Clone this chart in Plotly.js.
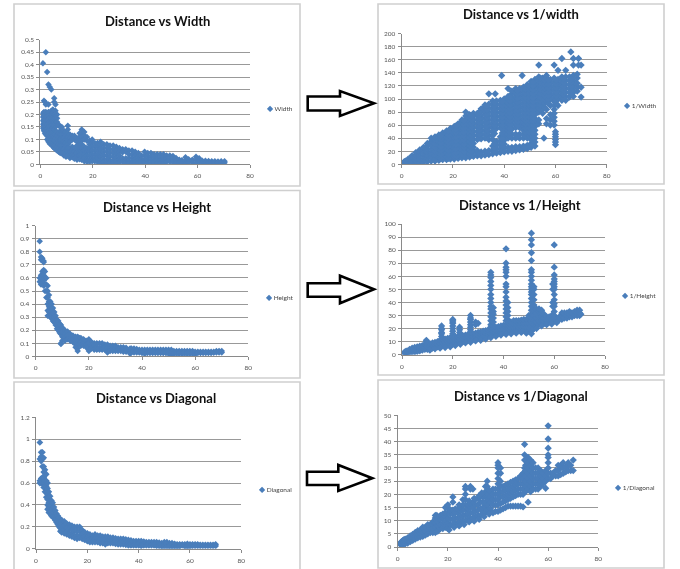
<!DOCTYPE html>
<html>
<head>
<meta charset="utf-8">
<script src="https://cdn.plot.ly/plotly-3.0.1.min.js"></script>
<style>
html,body{margin:0;padding:0;background:#fff;overflow:hidden}
#chart{width:680px;height:569px;filter:blur(0.45px)}
</style>
</head>
<body>
<div id="chart"></div>
<script>
// Each row: distance, then the values read at that distance.
const widthColumns = [
[1,.405,.205,.19,.175,.16,.145],[1.4,.255,.21,.195,.18,.165,.15,.135],[1.8,.25,.2,.185,.17,.155,.14,.125],[2.1,.45,.24,.21,.195,.18,.165,.15,.135,.12],
[2.6,.37,.205,.19,.175,.16,.145,.13,.115,.1],[3.1,.32,.24,.21,.195,.18,.165,.15,.135,.12,.105,.09],[3.6,.31,.2,.185,.17,.155,.14,.125,.11,.095,.082],
[4.2,.3,.215,.2,.185,.17,.155,.14,.125,.11,.095,.08],[4.8,.22,.205,.19,.175,.16,.145,.13,.115,.1,.085,.07],[5.3,.265,.25,.2,.185,.17,.155,.14,.125,.11,.095,.08,.065],
[5.8,.24,.215,.2,.185,.17,.15,.12,.105,.09,.075,.06],[6.4,.2,.185,.17,.13,.115,.1,.085,.07,.055],[7,.16,.125,.11,.095,.08,.065,.05],
[7.6,.15,.135,.12,.105,.09,.075,.06,.045],[8.2,.15,.135,.12,.105,.09,.075,.06,.045],[9,.135,.12,.105,.09,.075,.06,.045,.035],
[9.8,.13,.115,.1,.085,.07,.055,.04,.03],[10.5,.155,.14,.125,.11,.095,.08,.065,.05,.035],[11.3,.12,.105,.09,.065,.05,.035,.025],
[12.2,.115,.1,.07,.055,.04,.028],[13,.115,.1,.065,.05,.035,.022],[14,.105,.09,.075,.06,.045,.03,.018],[15,.125,.11,.095,.08,.065,.05,.035,.02],
[15.8,.14,.125,.11,.095,.08,.065,.05,.035,.018],[16.8,.13,.115,.1,.07,.055,.04,.025,.012],[17.8,.11,.095,.065,.05,.035,.02,.01],
[18.8,.095,.08,.065,.05,.035,.02,.01],[19.8,.1,.085,.07,.055,.04,.025,.012],[20.8,.085,.07,.055,.04,.025,.012],[21.8,.085,.07,.055,.04,.025,.01],
[23,.09,.075,.06,.045,.03,.015,.006],[24.2,.08,.065,.05,.035,.02,.008],[25.4,.08,.065,.05,.035,.02,.006],[26.6,.075,.06,.045,.03,.015,.005],
[27.8,.075,.06,.045,.03,.015,.005],[29,.07,.055,.04,.025,.012,.004],[30.2,.065,.05,.035,.02,.008],[31.4,.06,.048,.024,.01],[32.6,.06,.05,.024,.012,.004],
[33.8,.055,.04,.025,.012,.004],[35,.055,.04,.025,.012,.004],[36.2,.05,.035,.02,.008],[37.4,.045,.03,.018,.006],[38.6,.035,.02,.006],
[39.8,.05,.035,.02,.008],[41,.045,.032,.018,.006],[42.2,.045,.03,.018,.005],[43.4,.04,.028,.015,.005],[44.6,.04,.026,.014,.004],[45.8,.04,.026,.014,.005],
[47,.04,.026,.014,.004],[48.2,.035,.022,.01],[49.4,.035,.022,.01],[50.6,.033,.02,.008],[51.8,.025,.012,.004],[53,.018,.006],[54,.016,.006],[55.4,.028,.015,.005],
[56.6,.02,.008],[58,.018,.007],[59.4,.03,.018,.006],[60.6,.024,.01],[61.8,.014,.006],[63,.014,.006],[64.2,.013,.006],[65.4,.012,.005],[66.6,.012,.005],
[67.8,.011,.005],[69,.012,.005],[70.3,.012,.006]
];
const inverseWidthColumns = [
[1,2,4],[1.5,2,5],[2.5,2,6,8],[4,2,6,11,13],[5.5,2,6,10,14,18],[7,3,8,13,18,22],[8.5,3,7,12,17,22,26],[10,4,9,14,19,24,29,32],[11.5,5,11,17,23,29,35,40],
[13,5,8,14,20,26,32,38,42],[14.5,6,11,17,23,29,35,41,45],[16,7,14,20,26,32,38,44,48],[17.5,7,11,17,23,29,35,41,47,51],[19,8,14,20,26,32,38,44,50,55],
[20.5,8,11,17,23,29,35,41,47,53,58],[22,9,14,20,26,32,38,44,50,56,62],[23.5,10,17,23,29,35,41,47,53,59,65,68],[25,10,14,20,26,32,38,44,50,56,62,68,74,80],
[26.5,11,17,23,29,35,41,47,53,59,65,71,76],[28,12,20,26,32,38,44,50,56,62,68,74,78],[29.5,13,17,21,38,44,50,56,62,68,74,78],[31,13,19,39,45,51,57,63,69,75,81,85],
[32.5,14,20,40,46,52,58,64,70,76,82,88,91],[34,15,21,38,44,50,56,62,68,74,80,86,92,108],[35.5,16,22,28,38,44,50,56,62,68,74,80,86,92,97],[36.5,108],
[37,17,23,29,35,55,61,67,73,79,85,91,97],[38.5,18,24,30,36,42,56,62,68,74,80,86,92,98],[39,136],[40,19,25,31,37,43,49,55,61,67,73,79,85,91,97,100],
[41.5,20,26,40,46,52,58,64,70,76,82,88,94,100,104,116],[43,20,26,40,46,54,60,66,72,78,84,90,96,102,108,112],[44.5,21,27,40,46,56,62,68,74,80,86,92,98,104,110,116],
[46,22,27,40,46,56,62,68,74,80,86,92,98,104,110,116],[47,136],[47.5,23,28,40,46,52,58,64,70,76,82,88,94,100,106,112,118],
[49,24,29,40,46,52,58,64,70,76,82,88,94,100,106,112,118,122],[50.5,26,32,38,44,50,56,62,68,74,80,86,92,98,104,110,116,122,127],
[52,28,34,40,46,52,58,64,70,76,82,88,94,100,106,112,118,124,130],[53.5,62,68,80,86,92,98,104,110,116,122,128,134,152],[55,78,84,90,96,102,108,114,120,126,132],
[55.5,40],[56.5,62,70,84,96,102,108,114,120,126,132,136],[58,60,68,76,90,100,106,112,118,124,130],[59.5,60,66,72,78,84,90,96,102,108,114,120,126,132,152],
[60,30,34,38,42,46,50],[61,90,100,106,112,118,124,130,144],[62.5,98,104,110,116,122,128,134,162],[64,98,104,110,116,122,128,134,144],[65.5,103,110,116,122,128,134],
[66,172],[67,104,110,116,122,128,136,152,162],[68.5,112,118,124,132,138],[69,152,162],[70,103,118,152],
[15.25,9,15,21,27,33,39,43],[18.25,9,15,21,27,33,39,45,50],[21.25,12,18,24,30,36,42,48,54,59],[24.25,13,19,25,31,37,43,49,55,61,67],[27.25,14,20,26,32,38,44,50,56,62,68,74],
[30.25,16,40,46,52,58,64,70,76,80],[33.25,17,41,47,53,59,65,71,77,83,89],[36.25,20,26,32,47,53,59,65,71,77,83,89,95],[39.25,21,27,33,39,48,54,60,66,72,78,84,90,96],
[42.25,23,43,49,55,61,67,73,79,85,91,97,103],[45.25,24,43,59,65,71,77,83,89,95,101,107,113],[48.25,26,43,49,55,61,67,73,79,85,91,97,103,109,115],
[49.75,27,43,49,55,61,67,73,79,85,91,97,103,109,115,120],[51.25,30,36,42,48,54,60,66,72,78,84,90,96,102,108,114,120,126],[54.25,84,90,96,102,108,114,120,126,132],
[55.75,87,93,99,105,111,117,123,129],[57.25,93,99,105,111,117,123,129],[60.25,93,99,105,111,117,123,129],[63.25,101,107,113,119,125,131],[66.25,107,113,119,125,131]
];
const heightColumns = [
[1.5,.88,.8,.6,.57],[2,.76,.74,.62,.58,.55],[2.5,.75,.65,.6,.56],[3,.73,.72,.66,.62,.58,.54],[3.5,.65,.6,.55,.5],[4,.6,.55,.5,.45],
[4.5,.54,.5,.45,.4,.35,.31],[5,.47,.42,.38,.34,.31],[5.5,.42,.37,.33,.3],[6,.4,.36,.32,.29],[6.5,.37,.33,.29,.27],[7,.34,.3,.26],[7.5,.31,.27,.24],[8,.28,.24,.21],[8.5,.27,.23,.2],[9,.25,.21,.18],
[9.5,.24,.2,.17,.1,.095],[10,.22,.18,.15,.12],[11,.2,.17,.14,.12],[12,.19,.16,.13],[13,.17,.14,.12],[14,.16,.13,.11],[15,.15,.12,.09,.07],
[15.8,.15,.12,.09,.06,.04],[16.5,.14,.11,.09],[17,.14,.11,.08],[18,.13,.1,.08],[19,.12,.09,.07],[20,.13,.1,.07,.05,.04],[21,.11,.08,.06],[22,.1,.08,.05],
[23,.1,.07,.05],[24,.1,.07,.05],[25,.1,.07,.05],[26,.09,.07,.05],[27,.09,.06,.04,.03],[28,.08,.06,.04],[29,.08,.06,.04],[30,.08,.06,.04],[31,.07,.05,.04],[32,.07,.05,.04],[33,.07,.05,.035],[34,.065,.05,.035],
[35.5,.06,.04,.02],[36,.06,.045,.03],[37,.06,.04,.03],[38,.055,.04,.03],[39,.05,.035,.03],[40,.05,.035,.025],[41,.05,.035,.02],[42,.05,.035,.025],[43,.05,.035,.025],[44,.05,.035,.025],[45,.05,.035,.025],[46,.05,.035,.025],[47,.05,.035,.025],
[48,.05,.03,.025],[49,.05,.03,.025],[50,.05,.03,.02],[51,.05,.03,.012],[52,.04,.03,.02],[53,.04,.03,.02],[54,.04,.03,.02],[55,.04,.03,.02],[56,.04,.03,.02],[57,.04,.03,.02],[58,.04,.03,.02],[59,.04,.03,.02],[60,.035,.015],[61,.035,.025],[62,.035,.025],
[63,.035,.025],[64,.035,.025],[65,.035,.025],[66,.035,.025],[67,.035,.028],[68,.04,.03],[69,.04,.03],[70,.04,.03]
];
const inverseHeightColumns = [
[1,1,2],[1.5,1,2.5],[2,1,2,3],[3,1.5,3,4],[4,2,3.5,5],[5,2,4,5.5],[6,2.5,5,6],[7,3,5,6.5],[8,3.5,5.5,7],[9,4,6,7.5],[9.6,8,9,10,11],[10,4,6,8,9],[11,4.5,6.5,8.5],[12,5,7,9],[13,5.5,8,9.5],
[14,6,8,10],[15,6,8.5,11],[15.6,12,14,16,17,19,20,22],[16,7,9,11.5],[17,7,9.5,12],[18,7.5,10,12.5],[19,8,10.5,13],[20,8,11,14,16,18,20,22,24,25,26,27],
[21,9,11,13.5],[22,9,11.5,14],[22.7,15,17,19,21],[23,10,12,14],[24,10,12.5,14.5],[25,11,13,15],[26,11,13.5,15.5],[27,12,15,17,19,21,23,25,27,28,30],[28,12,14,16],
[29,13,15,16.5,23,25],[30,13,15,17,24],[31,13,15.5,17.5],[32,14,16,18],[33,14,16.5,18.5],[34,15,17,19],[35,16,19,21,23,26,29,32,35,37,40,43,46,50,53,56,59,61,63],
[36,16,18,20,22,25,28,31,33,36],[37,16.5,18.5,21],[38,17,19,21.5],[39,17,19,22],[40,17,19.5,22.5],[41,18,21,23,26,29,32,35,38,41,44,48,52,54,60,63,65,67,70,81],[41.7,21,24,27,30,33,36,40],
[42,18,20,22.5,25],[43,18,20.5,23,25],[44,18.5,21,23.5,26],[45,19,21,23.5,26],[46,19,21,24,26],[47,19,21.5,24,26.5],[48,19,21.5,24,27],[49,18.5,21,24,27],[50,18,21,24,28,30],
[51,18,22,25,28,31,34,37,40,43,46,48,50,52,54,57,60,63,65,72,78,84,88,93],[52,20,23,26,30,34,38,42,46,50,52],[53,22,25,28,32,35],[54,23,26,29,33,35],[55,24,26,29,32,34],[56,24,26,28,31],[57,24,26,29],[58,25,27,29],[59,25,27,30],[59.4,37,40,50,54],
[60,26,28,30,33,37,39,42,46,50,52,54,56,58,61,67,84],[61,26,28],[62,27,29],[63,27,30,32],[64,28,31,32],[65,28,30,32],[66,29,31,33],[67,29,32],[68,30,33],
[69,30,32,34],[70,30,32,34],[70.5,31],
[11,3.5],[13,4.5],[15,5],[17,5.5],[19,6],[21,7],[23,8],[25,9],[27,9.5],[29,10.5],[31,11],[33,12],[35,13],[37,14],[39,15],[41,15.5],[43,16],[45,16.5],[47,17],[49,16.5],[51,16],[53,20],[55,22],[57,23],[59,23.5],[61,24.5]
];
const diagonalColumns = [
[1.5,.97,.82,.62,.6],[2,.88,.84,.8,.64,.6],[2.5,.88,.82,.75,.65,.6],[3,.83,.75,.7,.65,.6,.56],[3.5,.72,.67,.62,.57,.52],[4,.68,.62,.57,.52,.47],
[4.5,.6,.55,.5,.45,.4,.36],[5,.52,.47,.42,.38,.33],[5.5,.48,.43,.38,.33],[6,.44,.39,.34,.3],[6.5,.42,.37,.32,.29],[7,.38,.33,.28],[7.5,.35,.3,.26],[8,.32,.27,.24],[8.5,.3,.26,.22],[9,.28,.24,.2],[9.5,.27,.23,.19,.16],
[10,.26,.22,.18,.15],[11,.25,.21,.17,.14],[12,.23,.19,.15,.13],[13,.22,.18,.14,.12],[14,.21,.17,.13,.11],[15,.2,.16,.12,.1],[16,.2,.16,.12,.09],
[17,.2,.16,.12,.1],[18,.17,.13,.09],[19,.15,.11,.08],[20,.14,.1,.07],[21,.13,.09,.06],[22,.12,.09,.06],[23,.13,.09,.06],[24,.12,.09,.06],
[25,.12,.08,.05],[26,.11,.08,.05],[27,.11,.08,.05,.04],[28,.11,.07,.05],[29,.1,.07,.05],[30,.1,.07,.05],[31,.095,.065,.045],[32,.09,.06,.04],[33,.09,.06,.04],[34,.09,.06,.04],[35,.085,.055,.035],
[36,.08,.05,.03],[37,.075,.05,.03],[38,.07,.05,.03],[39,.07,.05,.03],[40,.07,.05,.03],[41,.07,.04,.025],[42,.065,.04,.03],[43,.06,.04,.03],[44,.06,.04,.03],[45,.06,.04,.03],[46,.06,.04,.03],[47,.06,.04,.025],[48,.055,.035,.025],[49,.05,.03,.02],[50,.06,.035,.02],
[51,.06,.04,.02],[52,.05,.03,.02],[53,.05,.03,.02],[54,.045,.03,.02],[55,.04,.03,.02],[56,.04,.03,.02],[57,.04,.03],[58,.04,.03,.02],[59,.045,.03,.02],[60,.04,.02],[61,.04,.025],[62,.04,.025],[63,.04,.025],[64,.035,.025],[65,.035,.025],[66,.035,.025],[67,.035,.025],
[68,.035,.025],[69,.035,.025],[70,.04,.025]
];
const inverseDiagonalColumns = [
[1,1,1.5],[1.5,1,1.5,2],[2,1,2,2.4],[2.5,1.2,2.2,2.8],[3,1.2,2.2,3],[4,1.5,2.5,3.5],[5,2,3,4.2],[6,2.5,3.5,4.8],[7,3,4,5.5],[8,3.5,5,6.2],[9,3.8,5.2,6.5],[10,4,5.5,7,7.5],[11,4.5,6,7.5],[12,5,6.5,8,8.5],[13,5.5,7,8.5],
[14,5.5,7,8.5,9.5],[15,5.5,7.5,9.5,11,12],[15.6,6,8,10,12],[16,6,8,9.5,11],[17,7,8.5,10.5,12],[18,7,9,11,12.5],[19,7.5,9.5,11.5,13,15],[20,7,9,11,13,15,16],
[21,8.5,10.5,12.5,14],[22,8.5,10.5,12.5,14,17,19],[23,9,11,13,14.5],[24,9,11,13,14.5],[25,9.5,11.5,13.5,15],[26,10,12,14,16,18],
[27,10,12,14,16,18,20,22,23],[28,10.5,12.5,14.5,16],[29,11,13,15,16.5,22,23],[30,11,13,15,17,22],[31,11.5,13.5,16,18],[32,12,14,16,18.5],
[33,12,14.5,17,19],[34,13,15,17,19,20],[35,13,15,17,19,21,23],[35.7,14,16,19,21,23,25],[36,14,16,18,20,22],[37,14.5,17,19,21],[38,13,16,18,20,22],[39,13.5,16,18,20,22],[40,13.5,16,18,20,22,24,26,28,30,31,32],[41,14,16.5,19,21,23,25,28,30],
[42,14.5,17,19,21,23],[43,15,17.5,19.5,21.5,23.5],[44,15.5,18,20,22,24],[45,15.5,18.5,20.5,22.5,24.5],[46,15.5,19,21,23,25],[47,15.5,19.5,21.5,23.5,25.5],[48,15.5,20,22,24,26],[49,15.5,20,22,24,26,27],[50,15.2,20,22,24,26,28],[50.6,24,27,30,33,35,39],
[51,21,23,25,27,29,31,33],[52,17,22,24,26,28,30,32,34],[53,21,23,25,27,29,31,33],[54,22,24,26,28,30,32],[55,22,24,26,28,30],[56,22,24,26,28,30],[57,23,25,27,29],
[58,24,26,28],[59,22.3,25,27,29],[60,26,28,30,32,34,35,37.5,41,46],[61,26,28],[62,27,28],[63,27,29],[64,27,29,31],[65,27.5,30,31],[66,28,30,32],
[67,28.5,30.5],[68,29,31,32],[69,29,31],[70,29,33],
[20.5,6.5],[22.5,7.5],[24.5,8,16],[26.5,8.5],[28.5,9.5,17.5],[30.5,9.8,18.5],[32.5,10.5,19.5],[33.5,20.5],[34.5,11.5],[36.5,12.5,21.5]
];

const panelTitles = ["Distance vs Width","Distance vs 1/width","Distance vs Height","Distance vs 1/Height","Distance vs Diagonal","Distance vs 1/Diagonal"];
const seriesNames = ["Width","1/Width","Height","1/Height","Diagonal","1/Diagonal"];
const seriesColumns = [widthColumns,inverseWidthColumns,heightColumns,inverseHeightColumns,diagonalColumns,inverseDiagonalColumns];
const yMaxima = [0.5,200,1,100,1.2,50];
const yTickSteps = [0.05,20,0.1,10,0.2,5];
const xTickValues = [0,20,40,60,80];

const W=680,H=569,BLUE="#4a7ebb",FONT="Lato, Carlito, sans-serif";
// pixel placement of each panel
const boxes=[
 {l:40.3,r:250,t:39.7,b:164.3,ms:5,tx:157,ty:20.7,lx:268.3,ly:108,f:[14,300,4,186]},
 {l:401.7,r:606.7,t:33.7,b:164.3,ms:5.6,tx:520.7,ty:14.3,lx:625,ly:105,f:[378,664,4,184]},
 {l:35.7,r:248.3,t:225.7,b:356.3,ms:5,tx:156.7,ty:206.7,lx:266.7,ly:297,f:[14,300,190.5,378]},
 {l:402,r:605,t:224,b:354.7,ms:5.6,tx:520,ty:205,lx:623.3,ly:295.3,f:[378,664,190,375]},
 {l:36,r:241.3,t:417.3,b:548.7,ms:5.2,tx:156.3,ty:398.3,lx:260,ly:489,f:[14,300,382,575]},
 {l:397.7,r:598.3,t:415.3,b:547,ms:5.6,tx:520.7,ty:396.3,lx:616.3,ly:487,f:[378,664,380,568]}
];
const px=x=>x/W, py=y=>1-y/H;

const traces=[],layout={width:W,height:H,margin:{l:0,r:0,t:0,b:0},paper_bgcolor:"#fff",plot_bgcolor:"#fff",showlegend:false,annotations:[],shapes:[]};
seriesColumns.forEach((cols,i)=>{
  const n=i+1,b=boxes[i],xs=[],ys=[];
  cols.forEach(row=>row.slice(1).forEach(v=>{xs.push(row[0]);ys.push(v);}));
  traces.push({type:"scatter",mode:"markers",name:seriesNames[i],x:xs,y:ys,xaxis:"x"+n,yaxis:"y"+n,
    marker:{symbol:"diamond",size:b.ms,color:BLUE,line:{width:0}},hoverinfo:"skip"});
  const common={showline:true,linecolor:"#8a8a8a",linewidth:1,ticks:"outside",ticklen:3,tickcolor:"#8a8a8a",tickwidth:1,
    tickfont:{family:FONT,size:6.5,color:"#555"},zeroline:false,automargin:false};
  layout["xaxis"+n]=Object.assign({},common,{domain:[px(b.l),px(b.r)],range:[0,80],tickmode:"array",tickvals:xTickValues,ticktext:xTickValues.map(String),showgrid:false,anchor:"y"+n,ticklabelstandoff:2});
  layout["yaxis"+n]=Object.assign({},common,{domain:[py(b.b),py(b.t)],range:[0,yMaxima[i]],dtick:yTickSteps[i],tick0:0,showgrid:true,gridcolor:"#999",gridwidth:1,anchor:"x"+n,tickformat:"~r",ticklabelstandoff:1});
  layout.annotations.push({xref:"paper",yref:"paper",x:px(b.tx),y:py(b.ty),xanchor:"center",yanchor:"middle",showarrow:false,
    text:"<b>"+panelTitles[i]+"</b>",font:{family:FONT,size:13,color:"#111"}});
  layout.annotations.push({xref:"paper",yref:"paper",x:px(b.lx-3),y:py(b.ly),xanchor:"left",yanchor:"middle",showarrow:false,
    text:'<span style="color:'+BLUE+';font-size:8px">◆</span> '+seriesNames[i],font:{family:FONT,size:6.5,color:"#444"}});
  const f=b.f;
  layout.shapes.push({type:"rect",xref:"paper",yref:"paper",x0:px(f[0]),x1:px(f[1]),y0:py(f[3]),y1:py(f[2]),line:{color:"#cfcfcf",width:1.6},layer:"below"});
});
// the three arrows between the columns
const arrows=[
 [307.7,340,96.5,110.5,91,116,374,103.3],
 [307.7,340,283.3,296.7,275.7,303.3,374,289.3],
 [307,338.3,471.7,485,465,491,372.3,478.3]
];
arrows.forEach(a=>{
  const [x0,x1,t,bt,ht,hb,tx,ty]=a;
  const pts=[[x0,t],[x1,t],[x1,ht],[tx,ty],[x1,hb],[x1,bt],[x0,bt]];
  layout.shapes.push({type:"path",xref:"paper",yref:"paper",path:"M"+pts.map(p=>px(p[0])+","+py(p[1])).join("L")+"Z",
    fillcolor:"#fff",line:{color:"#000",width:2.6}});
});
Plotly.newPlot("chart",traces,layout,{displayModeBar:false,staticPlot:true});
</script>
</body>
</html>
